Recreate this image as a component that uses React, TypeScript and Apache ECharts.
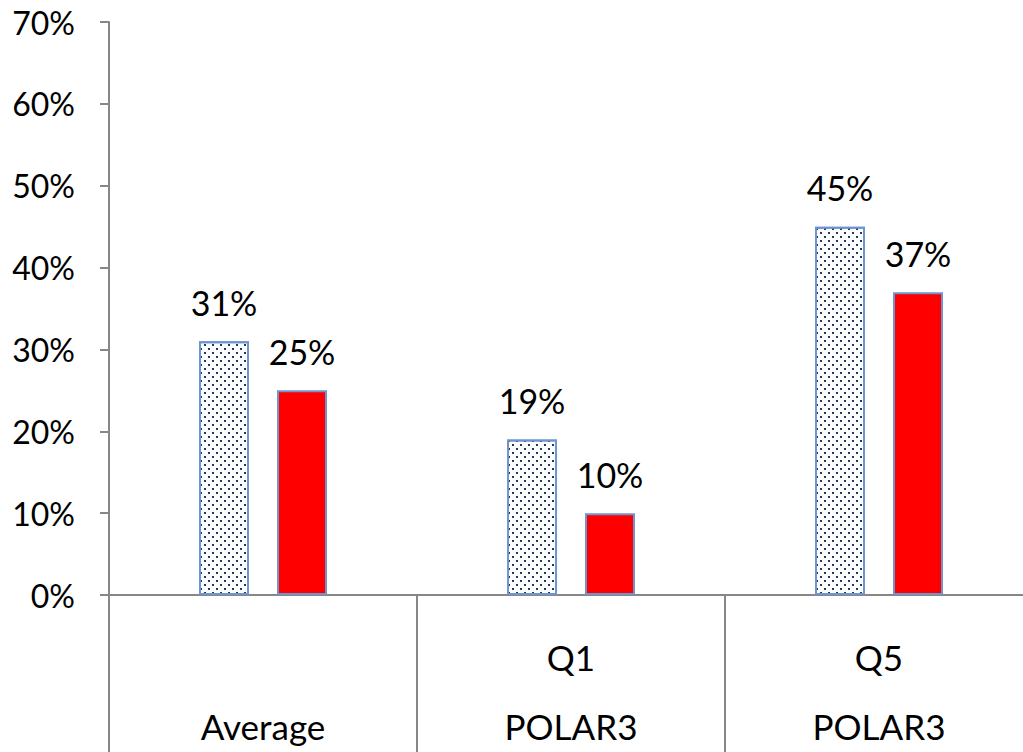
import React, { useEffect, useRef } from "react";
import * as echarts from "echarts";

const categories = ["Average", "Q1", "Q5"];
const topLabels = ["", "Q1", "Q5"];
const bottomLabels = ["Average", "POLAR3", "POLAR3"];
const seriesDotted = [31, 19, 45];
const seriesRed = [25, 10, 37];
const yTicks = [0, 10, 20, 30, 40, 50, 60, 70];

const FONT = "Lato, 'Open Sans', sans-serif";

export default function App() {
  const ref = useRef<HTMLDivElement>(null);
  useEffect(() => {
    if (!ref.current) return;
    const chart = echarts.init(ref.current, null, { renderer: "svg" });
    const axisColor = "#878787";
    const valueLabel = {
      show: true,
      position: "top",
      distance: 22,
      fontFamily: FONT,
      fontSize: 34,
      color: "#000",
      formatter: (p: any) => p.value + "%",
    };
    chart.setOption({
      animation: false,
      grid: { left: 109, top: 22, right: 0, bottom: 157 },
      xAxis: {
        type: "category",
        data: categories,
        axisLine: { show: true, lineStyle: { color: axisColor, width: 2 } },
        axisTick: {
          show: true,
          interval: 0,
          length: 160,
          alignWithLabel: false,
          lineStyle: { color: axisColor, width: 2 },
        },
        axisLabel: {
          interval: 0,
          margin: 45,
          fontFamily: FONT,
          fontSize: 35,
          color: "#000",
          lineHeight: 34.5,
          formatter: (v: string, i: number) =>
            (topLabels[i] || "") + "\n\n" + bottomLabels[i],
        },
      },
      yAxis: {
        type: "value",
        min: yTicks[0],
        max: yTicks[yTicks.length - 1],
        interval: 10,
        splitLine: { show: false },
        axisLine: { show: true, lineStyle: { color: axisColor, width: 2 } },
        axisTick: { show: true, length: 9, lineStyle: { color: axisColor, width: 2 } },
        axisLabel: {
          margin: 34,
          fontFamily: FONT,
          fontSize: 32,
          color: "#000",
          formatter: (v: number) => v + "%",
        },
      },
      series: [
        {
          type: "bar",
          data: seriesDotted,
          barWidth: 50,
          barGap: "56%",
          itemStyle: {
            color: "#ffffff",
            borderColor: "#6f95cf",
            borderWidth: 2,
            decal: {
              symbol: "rect",
              symbolSize: 1,
              color: "#1f3864",
              backgroundColor: "#ffffff",
              dashArrayX: [[2, 6], [0, 4, 2, 2]],
              dashArrayY: [2, 2],
              rotation: 0,
            },
          },
          label: valueLabel,
        },
        {
          type: "bar",
          data: seriesRed,
          barWidth: 50,
          itemStyle: {
            color: "#ff0000",
            borderColor: "#6f95cf",
            borderWidth: 2,
          },
          label: valueLabel,
        },
      ],
    });
    return () => chart.dispose();
  }, []);
  return (
    <div
      style={{
        position: "fixed",
        left: 0,
        top: 0,
        width: 1023,
        height: 752,
        overflow: "hidden",
        background: "#fff",
      }}
    >
      <div ref={ref} style={{ width: 1033, height: 752 }} />
    </div>
  );
}
